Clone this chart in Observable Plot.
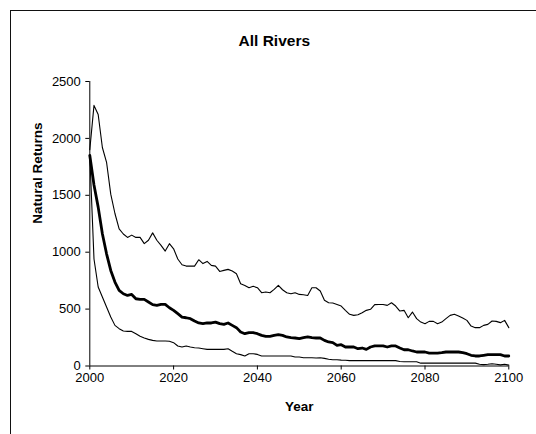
<!DOCTYPE html>
<html>
<head>
<meta charset="utf-8">
<script src="https://cdn.jsdelivr.net/npm/d3@7"></script>
<script src="https://cdn.jsdelivr.net/npm/@observablehq/plot@0.6"></script>
<style>
  html, body { margin: 0; padding: 0; background: #fff; }
  #wrap { position: relative; width: 536px; height: 434px; overflow: hidden; background: #fff; }
  #border { position: absolute; left: 10px; top: 10px; width: 600px; height: 600px; border: 1px solid #111; }
  #chart { position: absolute; left: 0; top: 0; }
</style>
</head>
<body>
<div id="wrap"><div id="border"></div><div id="chart"></div></div>
<script>
// Projected natural returns for all rivers, 2000–2100:
// upper bound, central estimate (bold) and lower bound.
const title = "All Rivers";
const xLabel = "Year";
const yLabel = "Natural Returns";

const years = d3.range(2000, 2101);
const xTicks = [2000, 2020, 2040, 2060, 2080, 2100];
const yTicks = [0, 500, 1000, 1500, 2000, 2500];

const upper = [
  1900, 2290, 2210, 1920, 1790, 1510, 1340, 1205, 1160, 1130,
  1150, 1130, 1130, 1075, 1105, 1170, 1105, 1060, 1010, 1075,
  1030, 940, 890, 878, 878, 878, 934, 900, 919, 884,
  878, 831, 840, 849, 834, 811, 723, 708, 688, 700,
  688, 644, 650, 644, 673, 708, 670, 644, 635, 644,
  629, 626, 620, 688, 688, 659, 577, 556, 553, 541,
  527, 489, 454, 445, 451, 468, 489, 498, 539, 541,
  541, 533, 556, 527, 483, 489, 424, 474, 416, 386,
  372, 392, 392, 372, 386, 416, 445, 454, 439, 421,
  401, 351, 337, 337, 357, 366, 395, 392, 381, 401, 337
];

const central = [
  1850, 1590, 1396, 1162, 986, 840, 738, 664, 635, 620,
  629, 591, 585, 585, 562, 539, 533, 541, 541, 512,
  489, 460, 430, 424, 416, 395, 378, 372, 378, 378,
  386, 372, 366, 378, 357, 337, 299, 284, 293, 293,
  284, 269, 261, 261, 269, 275, 269, 255, 249, 246,
  240, 249, 255, 249, 246, 246, 225, 211, 205, 181,
  187, 167, 167, 167, 152, 158, 146, 167, 176, 176,
  176, 167, 176, 176, 158, 143, 143, 132, 123, 123,
  123, 114, 114, 114, 117, 123, 123, 123, 123, 117,
  108, 94, 88, 88, 94, 100, 100, 100, 100, 88, 88
];

const lower = [
  1850, 940, 694, 606, 518, 430, 357, 328, 307, 304,
  304, 284, 261, 246, 234, 225, 220, 220, 220, 217,
  205, 176, 167, 176, 167, 161, 158, 152, 146, 146,
  146, 146, 146, 152, 129, 108, 100, 88, 108, 108,
  102, 88, 88, 88, 88, 88, 88, 88, 88, 79,
  79, 73, 73, 73, 70, 73, 67, 60, 55, 55,
  52, 50, 47, 47, 47, 47, 47, 47, 47, 47,
  47, 47, 47, 47, 40, 38, 38, 38, 38, 25,
  25, 25, 25, 25, 25, 25, 25, 25, 25, 25,
  25, 25, 25, 15, 12, 15, 20, 15, 10, 15, 8
];

const rows = years.map((year, i) => ({year, upper: upper[i], central: central[i], lower: lower[i]}));

const chart = Plot.plot({
  width: 536,
  height: 434,
  marginLeft: 89.3,
  marginRight: 27.7,
  marginTop: 81,
  marginBottom: 68.5,
  style: {fontFamily: "'Liberation Sans', Arial, sans-serif", fontSize: "13px", color: "#000", background: "transparent", overflow: "visible"},
  x: {domain: [2000, 2100]},
  y: {domain: [0, 2500]},
  marks: [
    Plot.axisY({ticks: yTicks, tickSize: 4, tickPadding: 5, fontSize: 13, tickFormat: "d", label: null, stroke: "#000"}),
    Plot.axisX({ticks: xTicks, tickSize: 4, tickPadding: 3, fontSize: 13, tickFormat: "d", label: null, stroke: "#000"}),
    Plot.ruleX([2000], {stroke: "#000"}),
    Plot.ruleY([0], {stroke: "#000"}),
    Plot.line(rows, {x: "year", y: "lower", stroke: "#000", strokeWidth: 1.1}),
    Plot.line(rows, {x: "year", y: "upper", stroke: "#000", strokeWidth: 1.1}),
    Plot.line(rows, {x: "year", y: "central", stroke: "#000", strokeWidth: 2.8}),
    Plot.text([title], {frameAnchor: "top", dx: -25, dy: -46.5, fontSize: 15.5, fontWeight: "bold", fill: "#000"}),
    Plot.text([xLabel], {frameAnchor: "bottom", dy: 45, fontSize: 13.5, fontWeight: "bold", fill: "#000"}),
    Plot.text([yLabel], {frameAnchor: "left", dx: -52, rotate: -90, fontSize: 13.5, fontWeight: "bold", fill: "#000"})
  ]
});

document.getElementById("chart").appendChild(chart);
</script>
</body>
</html>
